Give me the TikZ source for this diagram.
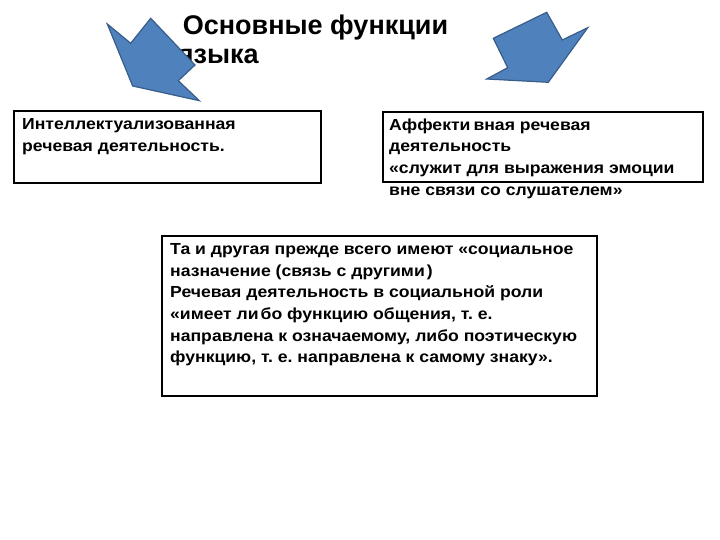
\documentclass[tikz,border=0pt]{standalone}
\usepackage{fontspec}
\setmainfont{Liberation Sans}
\newfontfamily\bodyfont[FakeStretch=1.1]{Liberation Sans}
\frenchspacing
\begin{document}
\begin{tikzpicture}[x=1pt,y=-1pt,
  txt/.style={anchor=north west,inner sep=0pt,align=left,font=\bodyfont\bfseries\fontsize{16}{21.6}\selectfont},
  ttl/.style={anchor=north west,inner sep=0pt,align=left,font=\bfseries\fontsize{27}{29}\selectfont},
  box/.style={draw=black,line width=1.8pt,inner sep=0pt,fill=none},
  arr/.style={fill={rgb,255:red,79;green,129;blue,189},draw={rgb,255:red,56;green,93;blue,138},line width=1.2pt,line join=miter}]
\useasboundingbox (0,0) rectangle (720,540);
% title
\node[ttl] (title) at (182.7,14.5) {Основные функции\\\hspace*{-5pt}языка};
% arrows
\draw[arr] (107.3,24) -- (130.7,43.3) -- (150.7,18.3) -- (195,65) -- (178.3,80.7) -- (199.3,100.7) -- (132.7,86) -- cycle;
\draw[arr] (493.3,38.3) -- (546.7,12.3) -- (562.3,40) -- (587.7,27.7) -- (548.3,82.3) -- (486.7,79) -- (507.7,67.7) -- cycle;
% boxes
\node[box,minimum width=307pt,minimum height=72pt] (b1) at (167.5,147) {};
\node[box,minimum width=320pt,minimum height=70pt] (b2) at (543,147) {};
\node[box,minimum width=435pt,minimum height=160pt] (b3) at (379.5,316) {};
% texts
\node[txt] (t1) at (22,118.5) {Интеллектуализованная\\речевая деятельность.};
\node[txt] (t2) at (389,118.5) {Аффекти\kern3pt вная речевая\\деятельность\\«служит для выражения эмоции\\вне связи со слушателем»};
\node[txt] (t3) at (170,243.5) {Та и другая прежде всего имеют «социальное\\назначение (связь с другими\kern2pt)\\Речевая деятельность в социальной роли\\«имеет ли\kern2pt бо функцию общения, т. е.\\направлена к означаемому, либо поэтическую\\функцию, т. е. направлена к самому знаку».};
\end{tikzpicture}
\end{document}
